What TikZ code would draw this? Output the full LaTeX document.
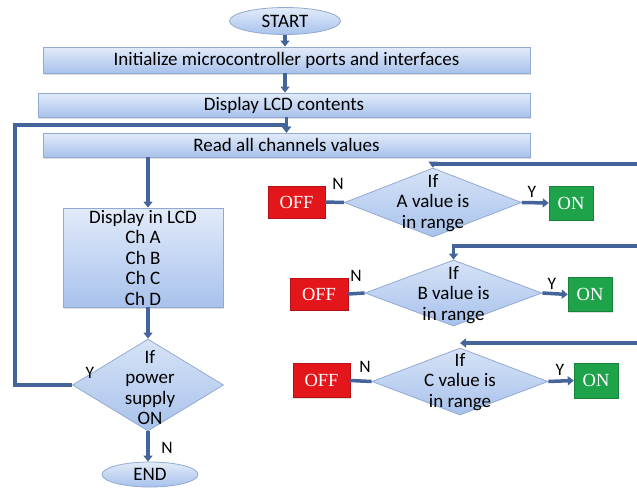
\documentclass[tikz,border=0pt]{standalone}
\usepackage{fontspec}
\setmainfont{Carlito}
\newfontfamily\timesf{Liberation Serif}
\usetikzlibrary{shapes.geometric,arrows.meta,shadows}
\definecolor{lineblue}{HTML}{45659A}
\definecolor{boxtop}{HTML}{E2EBF9}
\definecolor{boxbot}{HTML}{A8C2EC}
\definecolor{boxedge}{HTML}{93AAD0}
\definecolor{offred}{HTML}{E3161B}
\definecolor{ongreen}{HTML}{1FA34A}
\begin{document}
\begin{tikzpicture}[x=1pt,y=-1pt,
  every node/.style={font=\fontsize{19}{20.5}\selectfont, text=black, inner sep=0pt},
  box/.style={rectangle, draw=boxedge, line width=0.8pt, top color=boxtop, bottom color=boxbot,
    drop shadow={shadow xshift=1.2pt, shadow yshift=-1.5pt, opacity=0.25}},
  oval/.style={ellipse, draw=boxedge, line width=0.8pt, top color=boxtop, bottom color=boxbot},
  dia/.style={diamond, draw=boxedge, line width=0.8pt, top color=boxtop!80!boxbot, bottom color=boxbot},
  offbox/.style={rectangle, fill=offred, draw=offred!80!black, line width=0.5pt, text=white,
    font=\timesf\fontsize{18.5}{20}\selectfont,
    drop shadow={shadow xshift=1pt, shadow yshift=-1.2pt, opacity=0.25}},
  onbox/.style={rectangle, fill=ongreen, draw=ongreen!80!black, line width=0.5pt, text=white,
    font=\timesf\fontsize{18.5}{20}\selectfont,
    drop shadow={shadow xshift=1pt, shadow yshift=-1.2pt, opacity=0.25}},
  conn/.style={draw=lineblue, line width=3.5pt},
  arr/.style={conn, -{Triangle[length=6pt,width=9pt]}},
  yn/.style={font=\fontsize{17.5}{18}\selectfont}
]
\useasboundingbox (0,0) rectangle (637,488);
\fill[white] (0,0) rectangle (637,488);

% main column
\node[oval, minimum width=111, minimum height=27] (start) at (285,21) {START};
\node[box, minimum width=487, minimum height=26] (init) at (286.5,60) {Initialize microcontroller ports and interfaces};
\node[box, minimum width=492, minimum height=24] (lcd) at (284,105) {Display LCD contents};
\node[box, minimum width=487, minimum height=24] (read) at (286.5,145) {Read all channels values};
\node[box, minimum width=160, minimum height=99, align=center] (disp) at (143,257.5)
  {Display in LCD\\Ch A\\Ch B\\Ch C\\Ch D};
\node[dia, minimum width=151, minimum height=92] (pw) at (148,385) {};
\node[align=center] (pwt) at (150,387.5) {If\\power\\supply\\ON};
\node[oval, minimum width=96, minimum height=25] (end) at (150,474.5) {END};

% channel diamonds
\node[dia, minimum width=177, minimum height=69] (da) at (433,202.5) {};
\node[align=center] (dat) at (433,203) {If\\A value is\\in range};
\node[dia, minimum width=177, minimum height=66] (db) at (453.5,293) {};
\node[align=center] (dbt) at (453.5,295) {If\\B value is\\in range};
\node[dia, minimum width=176, minimum height=67] (dc) at (460,381.5) {};
\node[align=center] (dct) at (460,382) {If\\C value is\\in range};

% OFF / ON boxes
\node[offbox, minimum width=57, minimum height=32] (offa) at (296.5,202) {OFF};
\node[offbox, minimum width=58, minimum height=32] (offb) at (319,294) {OFF};
\node[offbox, minimum width=57, minimum height=34] (offc) at (321.5,380.5) {OFF};
\node[onbox, minimum width=44, minimum height=34] (ona) at (571,203) {ON};
\node[onbox, minimum width=44, minimum height=34] (onb) at (590,294.5) {ON};
\node[onbox, minimum width=44, minimum height=35] (onc) at (596,380.5) {ON};

% helper coordinates
\coordinate (cx) at (148,0);
\coordinate (lx) at (15,125);
\coordinate (ra) at (637,164);
\coordinate (rb) at (637,246);
\coordinate (rc) at (637,343);

% main flow
\draw[arr] (start.south) -- (init.north -| start.south);
\draw[arr] (init.south -| start.south) -- (lcd.north -| start.south);
\draw[arr] (lcd.south -| read.north) -- (read.north);
\draw[arr] (pw.west) -- (pw.west -| lx) -- (lx) -- (lx -| read.north) -- (read.north);
\draw[arr] (read.south -| cx) -- (disp.north -| cx);
\draw[arr] (disp.south -| cx) -- (pw.north -| cx);
\draw[arr] (pw.south -| cx) -- (end.north -| cx);
\node[yn] (ypw) at (90,373) {Y};
\node[yn] (npw) at (167,448) {N};

% channel A
\draw[arr] (ra) -- (ra -| da.north) -- (da.north);
\draw[conn] (da.west) -- (offa.east);
\draw[arr] (da.east) -- (ona.west);
\node[yn] (na) at (338,184) {N};
\node[yn] (ya) at (532,192) {Y};

% channel B
\draw[arr] (rb) -- (rb -| db.north) -- (db.north);
\draw[conn] (db.west) -- (offb.east);
\draw[arr] (db.east) -- (onb.west);
\node[yn] (nb) at (356,276) {N};
\node[yn] (yb) at (552,284) {Y};

% channel C
\draw[arr] (rc) -- (rc -| dc.north);
\draw[conn] (dc.west) -- (offc.east);
\draw[arr] (dc.east) -- (onc.west);
\node[yn] (nc) at (365,367) {N};
\node[yn] (yc) at (560,370) {Y};
\end{tikzpicture}
\end{document}
